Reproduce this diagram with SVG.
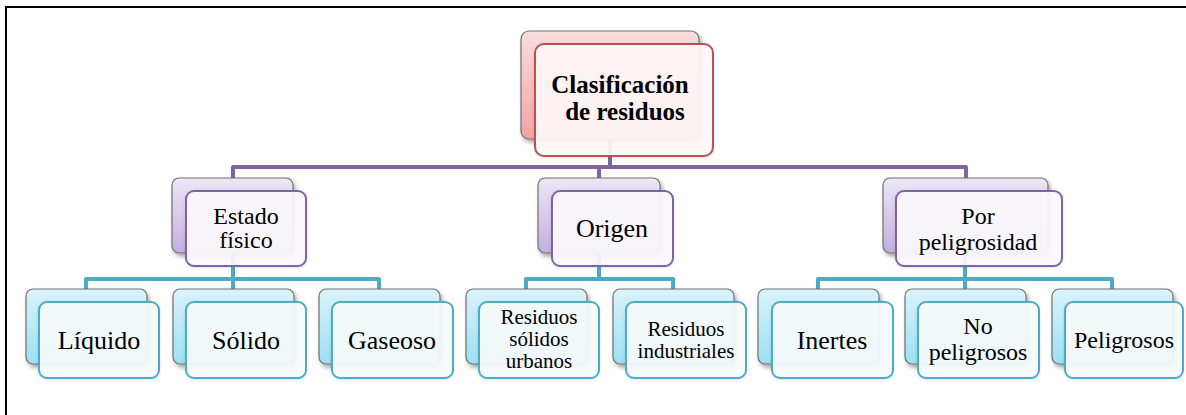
<svg xmlns="http://www.w3.org/2000/svg" width="1186" height="415" viewBox="0 0 1186 415">
  <defs>
    <linearGradient id="gRed" x1="0" y1="0" x2="0" y2="1">
      <stop offset="0" stop-color="#f8dede"/>
      <stop offset="1" stop-color="#f3a3a3"/>
    </linearGradient>
    <linearGradient id="gPur" x1="0" y1="0" x2="0" y2="1">
      <stop offset="0" stop-color="#ece6f5"/>
      <stop offset="1" stop-color="#c3aee0"/>
    </linearGradient>
    <linearGradient id="gTeal" x1="0" y1="0" x2="0" y2="1">
      <stop offset="0" stop-color="#daf3fa"/>
      <stop offset="1" stop-color="#9be0f3"/>
    </linearGradient>
    <filter id="sh" x="-10%" y="-10%" width="130%" height="130%">
      <feDropShadow dx="2" dy="3" stdDeviation="2" flood-color="#000" flood-opacity="0.35"/>
    </filter>
    <filter id="sh2" x="-10%" y="-10%" width="130%" height="130%">
      <feDropShadow dx="0" dy="1" stdDeviation="1.5" flood-color="#000" flood-opacity="0.12"/>
    </filter>
  </defs>
  <style>
    .back { stroke: #707070; stroke-width: 1.2; filter: url(#sh); }
    .bRed { fill: url(#gRed); }
    .bPur { fill: url(#gPur); }
    .bTeal { fill: url(#gTeal); }
    .front { stroke-width: 2; filter: url(#sh2); }
    .fRed { fill: #fff8f8; fill-opacity: 0.93; stroke: #c0504d; }
    .fPur { fill: #fbf9fd; fill-opacity: 0.93; stroke: #8064a2; }
    .fTeal { fill: #f6fbfd; fill-opacity: 0.93; stroke: #4bacc6; }
    text { font-family: "Liberation Serif", "Times New Roman", serif; fill: #000; text-anchor: middle; }
    .root { font-size: 25px; font-weight: bold; }
    .l2 { font-size: 24px; }
    .l3 { font-size: 26px; }
    .l3s { font-size: 24px; }
    .l3xs { font-size: 21px; }
    .cPur { fill: none; stroke: #8064a2; stroke-width: 4; stroke-linejoin: round; }
    .cTeal { fill: none; stroke: #4bacc6; stroke-width: 4; stroke-linejoin: round; }
  </style>

  <path d="M6,415 V7 H1186" fill="none" stroke="#000" stroke-width="2"/>

  <g id="connectors">
    <path class="cPur" d="M610,139 V167"/>
    <path class="cPur" d="M233,178 V167 H966 V178"/>
    <path class="cPur" d="M599,167 V178"/>
    <path class="cTeal" d="M233,253 V279"/>
    <path class="cTeal" d="M86,289 V279 H379 V289"/>
    <path class="cTeal" d="M233,279 V289"/>
    <path class="cTeal" d="M599,253 V279"/>
    <path class="cTeal" d="M526,289 V279 H673 V289"/>
    <path class="cTeal" d="M965,253 V279"/>
    <path class="cTeal" d="M818,289 V279 H1112 V289"/>
    <path class="cTeal" d="M965,279 V289"/>
  </g>

  <g id="root">
    <rect class="back bRed" x="521" y="31" width="178" height="108" rx="8"/>
    <rect class="front fRed" x="535" y="44" width="178" height="112" rx="9"/>
    <text class="root" x="620" y="93">Clasificación</text>
    <text class="root" x="625" y="120">de residuos</text>
  </g>

  <g id="estado-fisico">
    <rect class="back bPur" x="172" y="178" width="121" height="75" rx="7"/>
    <rect class="front fPur" x="186" y="191" width="120" height="75" rx="8"/>
    <text class="l2" x="246" y="224">Estado</text>
    <text class="l2" x="246" y="248">físico</text>
  </g>

  <g id="origen">
    <rect class="back bPur" x="538" y="178" width="122" height="75" rx="7"/>
    <rect class="front fPur" x="552" y="191" width="121" height="75" rx="8"/>
    <text class="l3" x="612" y="237">Origen</text>
  </g>

  <g id="por-peligrosidad">
    <rect class="back bPur" x="883" y="178" width="165" height="75" rx="7"/>
    <rect class="front fPur" x="896" y="191" width="166" height="75" rx="8"/>
    <text class="l2" x="978" y="224">Por</text>
    <text class="l2" x="978" y="250">peligrosidad</text>
  </g>

  <g id="liquido">
    <rect class="back bTeal" x="26" y="289" width="121" height="75" rx="7"/>
    <rect class="front fTeal" x="39" y="302" width="120" height="76" rx="8"/>
    <text class="l3" x="99" y="349">Líquido</text>
  </g>

  <g id="solido">
    <rect class="back bTeal" x="173" y="289" width="121" height="75" rx="7"/>
    <rect class="front fTeal" x="186" y="302" width="120" height="76" rx="8"/>
    <text class="l3" x="246" y="349">Sólido</text>
  </g>

  <g id="gaseoso">
    <rect class="back bTeal" x="319" y="289" width="121" height="75" rx="7"/>
    <rect class="front fTeal" x="332" y="302" width="121" height="76" rx="8"/>
    <text class="l3" x="392" y="349">Gaseoso</text>
  </g>

  <g id="residuos-solidos-urbanos">
    <rect class="back bTeal" x="466" y="289" width="121" height="75" rx="7"/>
    <rect class="front fTeal" x="479" y="302" width="120" height="76" rx="8"/>
    <text class="l3xs" x="539" y="324">Residuos</text>
    <text class="l3xs" x="539" y="346">sólidos</text>
    <text class="l3xs" x="539" y="368">urbanos</text>
  </g>

  <g id="residuos-industriales">
    <rect class="back bTeal" x="613" y="289" width="121" height="75" rx="7"/>
    <rect class="front fTeal" x="626" y="302" width="120" height="76" rx="8"/>
    <text class="l3xs" x="686" y="336">Residuos</text>
    <text class="l3xs" x="686" y="358">industriales</text>
  </g>

  <g id="inertes">
    <rect class="back bTeal" x="758" y="289" width="121" height="75" rx="7"/>
    <rect class="front fTeal" x="772" y="302" width="121" height="76" rx="8"/>
    <text class="l3" x="832" y="349">Inertes</text>
  </g>

  <g id="no-peligrosos">
    <rect class="back bTeal" x="905" y="289" width="121" height="75" rx="7"/>
    <rect class="front fTeal" x="918" y="302" width="121" height="76" rx="8"/>
    <text class="l3s" x="978" y="334">No</text>
    <text class="l3s" x="978" y="360">peligrosos</text>
  </g>

  <g id="peligrosos">
    <rect class="back bTeal" x="1052" y="289" width="121" height="75" rx="7"/>
    <rect class="front fTeal" x="1065" y="302" width="118" height="76" rx="8"/>
    <text class="l3s" x="1124" y="348">Peligrosos</text>
  </g>
</svg>
